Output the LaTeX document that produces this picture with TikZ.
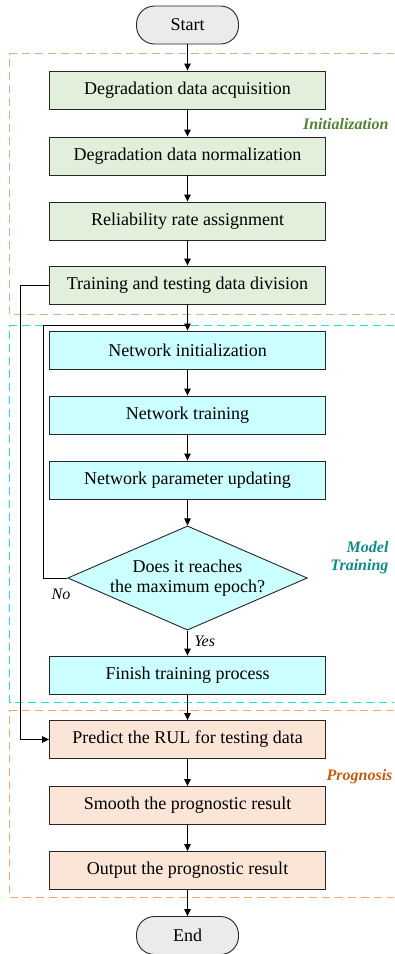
\documentclass[tikz,border=0pt]{standalone}
\usepackage{fontspec}
\setmainfont{Liberation Serif}
\usetikzlibrary{shapes.geometric,arrows.meta}
\definecolor{gfill}{HTML}{E2EFDA}
\definecolor{cfill}{HTML}{CCFFFF}
\definecolor{ofill}{HTML}{FBE5D6}
\definecolor{sfill}{HTML}{EBEBEB}
\definecolor{gdash}{HTML}{A0CC85}
\definecolor{cdash}{HTML}{22DDDD}
\definecolor{odash}{HTML}{F4A870}
\definecolor{glab}{HTML}{538135}
\definecolor{clab}{HTML}{138A8A}
\definecolor{olab}{HTML}{C55A11}
\tikzset{
  x=1pt,y=-1pt,
  every node/.style={font=\fontsize{18}{20.5}\selectfont},
  procbox/.style={draw=black!85,line width=0.9pt,minimum width=276pt,minimum height=38pt,inner sep=0pt},
  termbox/.style={draw=black!85,line width=0.9pt,rounded corners=18pt,fill=sfill,minimum width=102pt,minimum height=38pt,inner sep=0pt},
  decbox/.style={draw=black!85,line width=0.9pt,diamond,fill=cfill,minimum width=232pt,minimum height=101pt,inner sep=0pt,align=center,aspect=2.3},
  flow/.style={line width=0.9pt,-{Triangle[length=7pt,width=6.5pt]}},
  plain/.style={line width=0.9pt},
  region/.style={dash pattern=on 8pt off 5pt,line width=1.5pt},
  grouplab/.style={font=\fontsize{16}{18}\selectfont\bfseries\itshape,anchor=east,align=right},
  edgelab/.style={font=\fontsize{16}{18}\selectfont\itshape}
}
\begin{document}
\begin{tikzpicture}
\useasboundingbox (0,0) rectangle (394,954);
\clip (0,0) rectangle (394,954);
% regions
\draw[region,draw=gdash] (420,53.5) -- (9.5,53.5) -- (9.5,314.5) -- (420,314.5);
\draw[region,draw=cdash] (420,325.5) -- (9.5,325.5) -- (9.5,702.5) -- (420,702.5);
\draw[region,draw=odash] (420,710.5) -- (9.5,710.5) -- (9.5,897.5) -- (420,897.5);
% nodes
\node[termbox] (start) at (187.5,25) {Start};
\node[procbox,fill=gfill] (n1) at (187.5,90) {Degradation data acquisition};
\node[procbox,fill=gfill] (n2) at (187.5,156) {Degradation data normalization};
\node[procbox,fill=gfill] (n3) at (187.5,221) {Reliability rate assignment};
\node[procbox,fill=gfill] (n4) at (187.5,285) {Training and testing data division};
\node[procbox,fill=cfill] (n5) at (187.5,350) {Network initialization};
\node[procbox,fill=cfill] (n6) at (187.5,415) {Network training};
\node[procbox,fill=cfill] (n7) at (187.5,480) {Network parameter updating};
\node[decbox] (dia) at (187.5,578) {Does it reaches\\the maximum epoch?};
\node[procbox,fill=cfill] (n8) at (187.5,675) {Finish training process};
\node[procbox,fill=ofill] (p1) at (187.5,739.5) {Predict the RUL for testing data};
\node[procbox,fill=ofill] (p2) at (187.5,805.5) {Smooth the prognostic result};
\node[procbox,fill=ofill] (p3) at (187.5,870.5) {Output the prognostic result};
\node[termbox] (fin) at (187.5,935.5) {End};
% group labels
\node[grouplab,text=glab] (lab1) at (392,124) {Initialization};
\node[grouplab,text=clab] (lab2) at (392,558) {Model\\Training};
\node[grouplab,text=olab] (lab3) at (396,777) {Prognosis};
% connectors
\draw[flow] (start) -- (n1);
\draw[flow] (n1) -- (n2);
\draw[flow] (n2) -- (n3);
\draw[flow] (n3) -- (n4);
\draw[flow] (n4) -- (n5);
\draw[flow] (n5) -- (n6);
\draw[flow] (n6) -- (n7);
\draw[flow] (n7) -- (dia);
\draw[flow] (dia) -- node[edgelab,right=3pt,pos=0.45] (yes) {Yes} (n8);
\draw[flow] (n8) -- (p1);
\draw[flow] (p1) -- (p2);
\draw[flow] (p2) -- (p3);
\draw[flow] (p3) -- (fin);
% loop back
\coordinate (lp) at (43,325);
\draw[plain] (dia.west) -| (lp) -- (lp -| n5.north);
\node[edgelab] (no) at (61,594) {No};
% bypass to prediction
\coordinate (lf) at (20,285);
\draw[flow] (n4.west) -- (lf) |- (p1.west);
\end{tikzpicture}
\end{document}
